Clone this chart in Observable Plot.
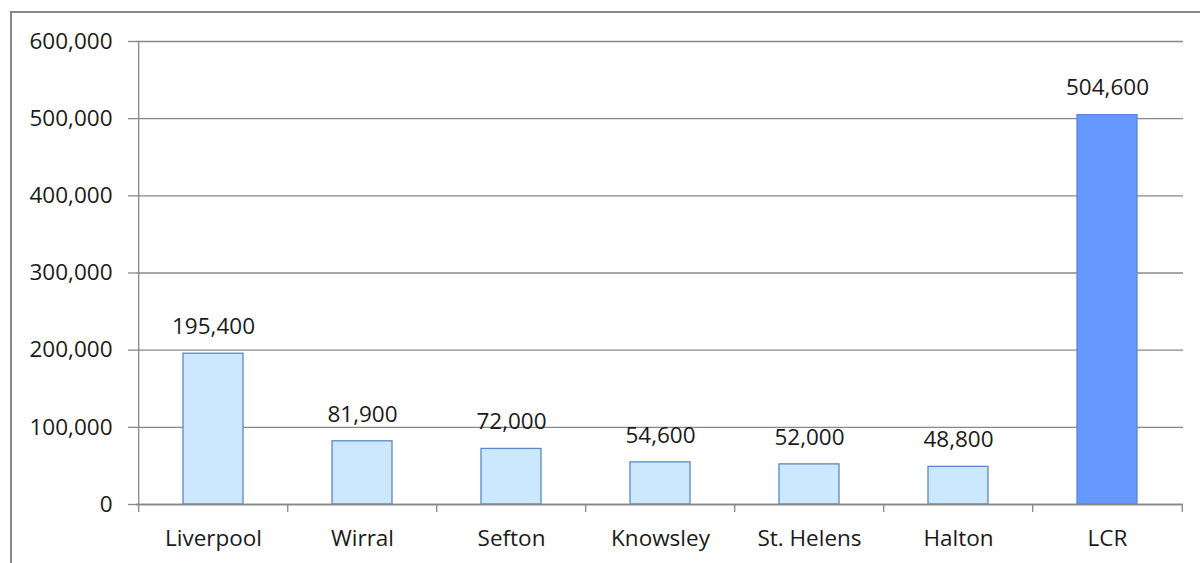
<!DOCTYPE html>
<html>
<head>
<meta charset="utf-8">
<script src="https://cdn.jsdelivr.net/npm/d3@7"></script>
<script src="https://cdn.jsdelivr.net/npm/@observablehq/plot@0.6"></script>
<style>
  html, body { margin: 0; padding: 0; background: #fff; }
  #wrap { position: relative; width: 1200px; height: 563px; overflow: hidden; }
  #border { position: absolute; left: 10px; top: 11px; width: 1300px; height: 700px; border: 2px solid #878787; box-sizing: border-box; }
  #chart { position: absolute; left: 0; top: 0; }
</style>
</head>
<body>
<div id="wrap"><div id="border"></div><div id="chart"></div></div>
<script>
const categories = ["Liverpool", "Wirral", "Sefton", "Knowsley", "St. Helens", "Halton", "LCR"];
const values = [195400, 81900, 72000, 54600, 52000, 48800, 504600];
const yTicks = [0, 100000, 200000, 300000, 400000, 500000, 600000];

const data = categories.map((c, i) => ({category: c, value: values[i], total: c === "LCR"}));

const width = 1200, height = 563;
const ml = 136, mr = 17, mt = 41, mb = 59;
const step = (width - ml - mr) / categories.length;
const fmt = d3.format(",");
const grey = "#888888";
const textColor = "#1a1a1a";
const fs = 22.5;

const chart = Plot.plot({
  width, height,
  marginLeft: ml, marginRight: mr, marginTop: mt, marginBottom: mb,
  style: {fontFamily: "'Open Sans', sans-serif", fontSize: fs + "px", color: textColor, background: "transparent"},
  x: {domain: categories, paddingInner: 0.6, paddingOuter: 0.3, label: null},
  y: {domain: [0, 600000], label: null},
  marks: [
    Plot.gridY(yTicks, {stroke: grey, strokeOpacity: 1, strokeWidth: 1.3}),
    Plot.axisY(yTicks, {tickSize: 8, tickPadding: 16, tickFormat: fmt, stroke: grey, strokeWidth: 1.3, fill: textColor, fontSize: fs, label: null}),
    Plot.ruleX([categories[0]], {x: d => d, dx: -step / 2, y1: 0, y2: 600000, stroke: grey, strokeWidth: 1.3}),
    Plot.barY(data, {x: "category", y: "value", fill: d => d.total ? "#6699FF" : "#CCE8FF", stroke: d => d.total ? "#5A86DE" : "#5B87C8", strokeWidth: 1.3}),
    Plot.ruleY([0], {stroke: grey, strokeWidth: 1.3}),
    Plot.axisX({tickSize: 8, text: null, dx: -step / 2, stroke: grey, strokeWidth: 1.3}),
    Plot.axisX([categories[categories.length - 1]], {tickSize: 8, text: null, dx: step / 2, stroke: grey, strokeWidth: 1.3}),
    Plot.axisX({tickSize: 0, tickPadding: 26, fill: textColor, fontSize: fs, label: null}),
    Plot.text(data, {x: "category", y: "value", text: d => fmt(d.value), dy: -27, fill: textColor, fontSize: fs})
  ]
});
document.getElementById("chart").appendChild(chart);
</script>
</body>
</html>
